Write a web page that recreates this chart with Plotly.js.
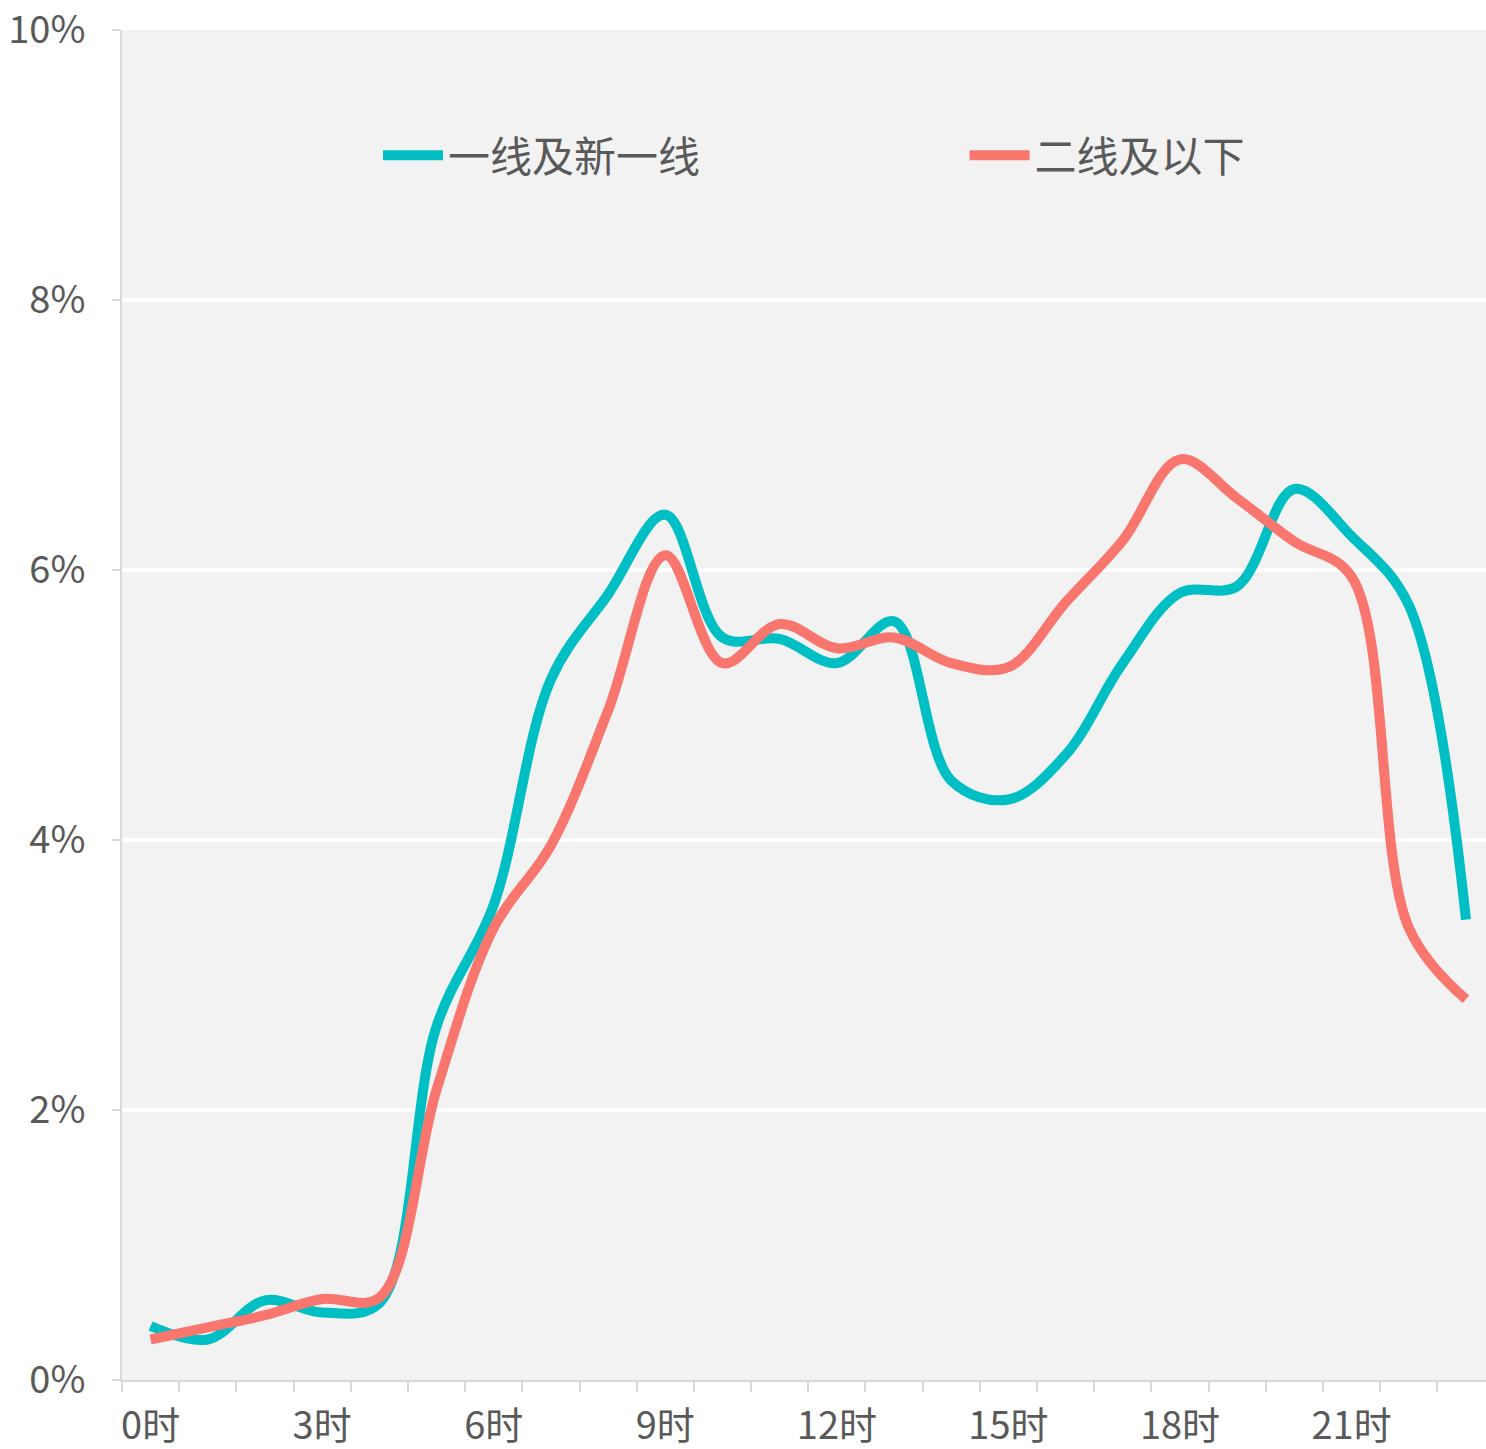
<!DOCTYPE html>
<html>
<head>
<meta charset="utf-8">
<script src="https://cdn.plot.ly/plotly-3.0.1.min.js"></script>
<style>html,body{margin:0;padding:0;background:#fff;}#chart{width:1486px;height:1449px;}</style>
</head>
<body>
<div id="chart"></div>
<script>
const hours = [0,1,2,3,4,5,6,7,8,9,10,11,12,13,14,15,16,17,18,19,20,21,22,23];
const tickHours = [0,3,6,9,12,15,18,21];
const tickLabels = ['0时','3时','6时','9时','12时','15时','18时','21时'];
const yTicks = [0,2,4,6,8,10];
const yLabels = ['0%','2%','4%','6%','8%','10%'];
const seriesNames = ['一线及新一线','二线及以下'];
const tier1 = [0.40,0.30,0.59,0.50,0.57,2.62,3.52,5.19,5.82,6.41,5.50,5.49,5.31,5.62,4.44,4.30,4.63,5.31,5.83,5.88,6.60,6.25,5.74,3.41];
const tier2 = [0.30,0.39,0.48,0.60,0.61,2.15,3.35,3.96,4.96,6.11,5.31,5.60,5.42,5.50,5.31,5.28,5.76,6.22,6.82,6.53,6.21,5.95,3.35,2.82];
const colors = ['#00BFC4','#F8766D'];
const legendIds = ['legend','legend2'];

const font = {family: '"Noto Sans CJK SC", "Noto Sans", sans-serif', color: '#595959'};

const traces = [tier1, tier2].map((vals, k) => ({
  type: 'scatter', mode: 'lines', x: hours, y: vals, name: seriesNames[k],
  legend: legendIds[k],
  line: {color: colors[k], width: 10, shape: 'spline', smoothing: 1}
}));

function legendAt(x) {
  return {orientation: 'h', x: x, xanchor: 'left', y: 0.907, yanchor: 'middle',
    bgcolor: 'rgba(0,0,0,0)', font: Object.assign({size: 42}, font), itemwidth: 60};
}

const layout = {
  width: 1486, height: 1449,
  margin: {l: 122, r: 0, t: 30, b: 69},
  paper_bgcolor: '#ffffff', plot_bgcolor: '#F2F2F2',
  font: Object.assign({size: 38}, font),
  showlegend: true,
  legend: legendAt(0.1877),
  legend2: legendAt(0.6177),
  xaxis: {
    range: [-0.5, 23.35], tickvals: tickHours, ticktext: tickLabels,
    ticks: '', showgrid: false, zeroline: false,
    showline: true, linecolor: '#D9D9D9', linewidth: 2,
    tickfont: Object.assign({size: 38}, font), ticklabelstandoff: 11,
    minor: {tick0: -0.5, dtick: 1, ticks: 'outside', ticklen: 10, tickwidth: 2, tickcolor: '#D9D9D9', showgrid: false}
  },
  yaxis: {
    range: [0, 10], tickmode: 'array', tickvals: yTicks, ticktext: yLabels,
    ticks: 'outside', ticklen: 8, tickwidth: 2, tickcolor: '#D9D9D9',
    showgrid: true, gridcolor: '#FFFFFF', gridwidth: 4, zeroline: false,
    showline: true, linecolor: '#D9D9D9', linewidth: 2, ticklabeloverflow: 'allow',
    tickfont: Object.assign({size: 38}, font), ticklabelstandoff: 19
  }
};

Plotly.newPlot('chart', traces, layout, {displayModeBar: false, staticPlot: true});
</script>
</body>
</html>
